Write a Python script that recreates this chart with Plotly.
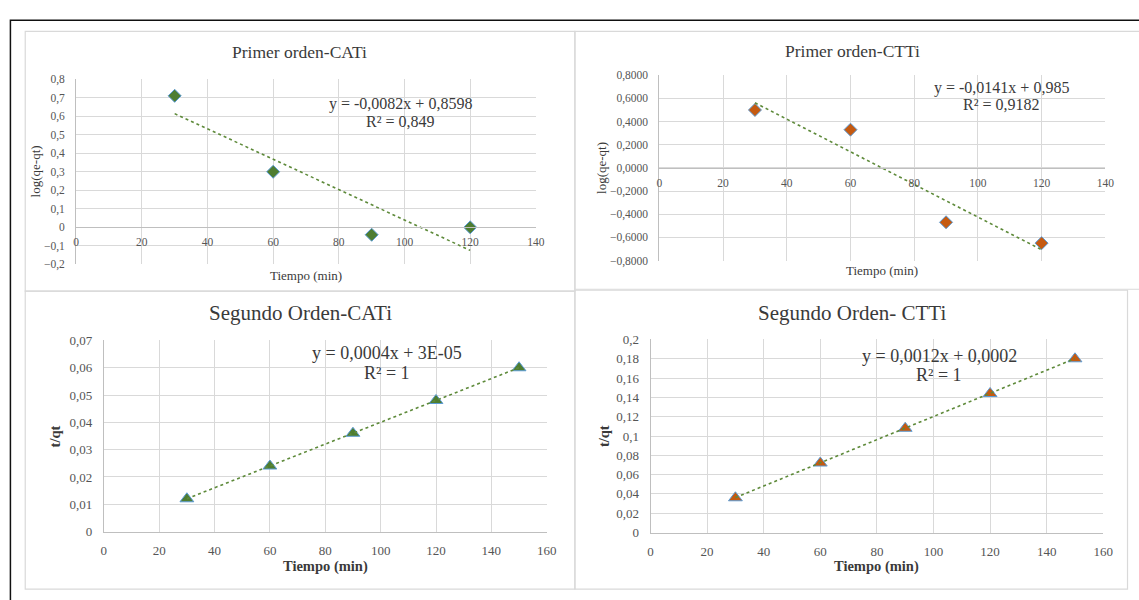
import plotly.graph_objects as go

W, H = 1139, 600

# ---------------- data ----------------
t_first = [30, 60, 90, 120]
log_cati = [0.71, 0.30, -0.04, 0.0]
log_ctti = [0.50, 0.33, -0.47, -0.65]

t_second = [30, 60, 90, 120, 150]
tq_cati = [0.012, 0.024, 0.036, 0.048, 0.060]
tq_ctti = [0.036, 0.072, 0.108, 0.144, 0.180]

fit_slope = [-0.0082, -0.0141, 0.0004, 0.0012]
fit_intercept = [0.8598, 0.985, 0.00003, 0.0002]

titles = ["Primer orden-CATi", "Primer orden-CTTi", "Segundo Orden-CATi", "Segundo Orden- CTTi"]
eq_lines = [
    ["y = -0,0082x + 0,8598", "R² = 0,849"],
    ["y = -0,0141x + 0,985", "R² = 0,9182"],
    ["y = 0,0004x + 3E-05", "R² = 1"],
    ["y = 0,0012x + 0,0002", "R² = 1"],
]
x_title = "Tiempo (min)"
y_titles = ["log(qe-qt)", "log(qe-qt)", "t/qt", "t/qt"]


def fx(p):
    return p / W


def fy(p):
    return 1 - p / H


GREEN = "#4E7D31"
ORANGE = "#C55A11"
EDGE = "#5B9BD5"
TREND = "#5E8A3A"
GRID = "#D9D9D9"
TXT = "#3A3A3A"
TICK = "#555555"
FONT = "Liberation Serif"

panels = [
    dict(xs=t_first, ys=log_cati, color=GREEN, symbol="diamond", msize=10,
         rect=(74, 74, 539, 264), xr=[0, 140], yr=[-0.2, 0.8], ydt=0.1, yfmt="",
         title=(300, 46), tsize=17.5, eq=(402, 100, 117), esize=16,
         ytx=33, xty=275, tick=11.5, ats=13, abold=False),
    dict(xs=t_first, ys=log_ctti, color=ORANGE, symbol="diamond", msize=10,
         rect=(664, 70, 1115, 260), xr=[0, 140], yr=[-0.8, 0.8], ydt=0.2, yfmt=".4f",
         title=(859, 45), tsize=17.5, eq=(1010, 83, 100), esize=16,
         ytx=606, xty=270, tick=11.5, ats=13, abold=False),
    dict(xs=t_second, ys=tq_cati, color=GREEN, symbol="triangle-up", msize=12,
         rect=(102, 342, 550, 538), xr=[0, 160], yr=[0, 0.07], ydt=0.01, yfmt="",
         title=(301, 314), tsize=21, eq=(388, 355, 375), esize=18,
         ytx=53, xty=574, tick=13, ats=14.5, abold=True),
    dict(xs=t_second, ys=tq_ctti, color=ORANGE, symbol="triangle-up", msize=12,
         rect=(655, 341, 1113, 539), xr=[0, 160], yr=[0, 0.2], ydt=0.02, yfmt="",
         title=(859, 314), tsize=21, eq=(947, 358, 377), esize=18,
         ytx=608, xty=574, tick=13, ats=14.5, abold=True),
]

fig = go.Figure()
annotations = []
layout = {}

for i, p in enumerate(panels):
    n = "" if i == 0 else str(i + 1)
    xa, ya = "x" + n, "y" + n
    x0, y0, x1, y1 = p["rect"]
    ydom = [fy(y1), fy(y0)]
    xdom = [fx(x0), fx(x1)]

    fig.add_trace(go.Scatter(
        x=p["xs"], y=p["ys"], mode="markers", xaxis=xa, yaxis=ya, showlegend=False,
        marker=dict(symbol=p["symbol"], size=p["msize"], color=p["color"],
                    line=dict(color=EDGE, width=1)),
    ))
    tx = [min(p["xs"]), max(p["xs"])]
    ty = [fit_slope[i] * v + fit_intercept[i] for v in tx]
    fig.add_trace(go.Scatter(
        x=tx, y=ty, mode="lines", xaxis=xa, yaxis=ya, showlegend=False,
        line=dict(color=TREND, width=1.6, dash="dot"),
    ))

    xaxis = dict(domain=xdom, range=p["xr"], dtick=20,
                 tick0=0, showgrid=True, gridcolor=GRID, gridwidth=1, zeroline=False,
                 showline=True, linecolor="#BFBFBF", linewidth=1, ticks="",
                 tickfont=dict(family=FONT, size=p["tick"], color=TICK), fixedrange=True)
    yaxis = dict(domain=ydom, range=p["yr"], dtick=p["ydt"], tick0=0,
                 showgrid=True, gridcolor=GRID, gridwidth=1, zeroline=False,
                 showline=True, linecolor="#BFBFBF", linewidth=1, ticks="",
                 tickformat=p["yfmt"], anchor=xa, ticklabelstandoff=8,
                 tickfont=dict(family=FONT, size=p["tick"], color=TICK), fixedrange=True)
    if p["yr"][0] < 0:
        frac = (0 - p["yr"][0]) / (p["yr"][1] - p["yr"][0])
        xaxis["anchor"] = "free"
        xaxis["position"] = ydom[0] + frac * (ydom[1] - ydom[0])
        xaxis["ticklabelstandoff"] = 4
    else:
        xaxis["anchor"] = ya
        xaxis["ticklabelstandoff"] = 7
    layout["xaxis" + n] = xaxis
    layout["yaxis" + n] = yaxis

    annotations.append(dict(x=fx(p["title"][0]), y=fy(p["title"][1]), xref="paper", yref="paper",
                            text=titles[i], showarrow=False, xanchor="center", yanchor="middle",
                            font=dict(family=FONT, size=p["tsize"], color=TXT)))
    for k, line in enumerate(eq_lines[i]):
        annotations.append(dict(x=fx(p["eq"][0]), y=fy(p["eq"][1 + k]), xref="paper", yref="paper",
                                text=line, showarrow=False, xanchor="center", yanchor="middle",
                                font=dict(family=FONT, size=p["esize"], color=TXT)))
    wt = "bold" if p["abold"] else "normal"
    annotations.append(dict(x=fx(p["ytx"]), y=(ydom[0] + ydom[1]) / 2, xref="paper", yref="paper",
                            text=y_titles[i], showarrow=False, textangle=-90,
                            xanchor="center", yanchor="middle",
                            font=dict(family=FONT, size=p["ats"], color=TXT, weight=wt)))
    annotations.append(dict(x=(xdom[0] + xdom[1]) / 2, y=fy(p["xty"]), xref="paper", yref="paper",
                            text=x_title, showarrow=False, xanchor="center", yanchor="middle",
                            font=dict(family=FONT, size=p["ats"], color=TXT, weight=wt)))

boxes = [(22.5, 25, 578.5, 291.5), (578.5, 25, 1150, 289.5),
         (22.5, 291.5, 578.5, 597), (578.5, 290.5, 1137.5, 597)]
shapes = []
for bx0, by0, bx1, by1 in boxes:
    shapes.append(dict(type="rect", xref="paper", yref="paper",
                       x0=fx(bx0), x1=fx(bx1), y0=fy(by1), y1=fy(by0),
                       line=dict(color="#D9D9D9", width=1.2), layer="below"))
shapes.append(dict(type="rect", xref="paper", yref="paper",
                   x0=fx(7.5), x1=fx(1150), y0=fy(610), y1=fy(13.5),
                   line=dict(color="#111111", width=1.5)))

fig.update_layout(
    width=W, height=H, autosize=False,
    margin=dict(l=0, r=0, t=0, b=0),
    paper_bgcolor="white", plot_bgcolor="white",
    separators=",.",
    annotations=annotations, shapes=shapes,
    font=dict(family=FONT, color=TXT),
    **layout,
)

fix_page = (
    "var d=document.documentElement,b=document.body;"
    "[d,b].forEach(function(e){e.style.margin='0';e.style.padding='0';e.style.overflow='hidden';});"
    "window.scrollTo(0,0);"
)
fig.write_html("out.html", config={"displayModeBar": False}, post_script=fix_page)
